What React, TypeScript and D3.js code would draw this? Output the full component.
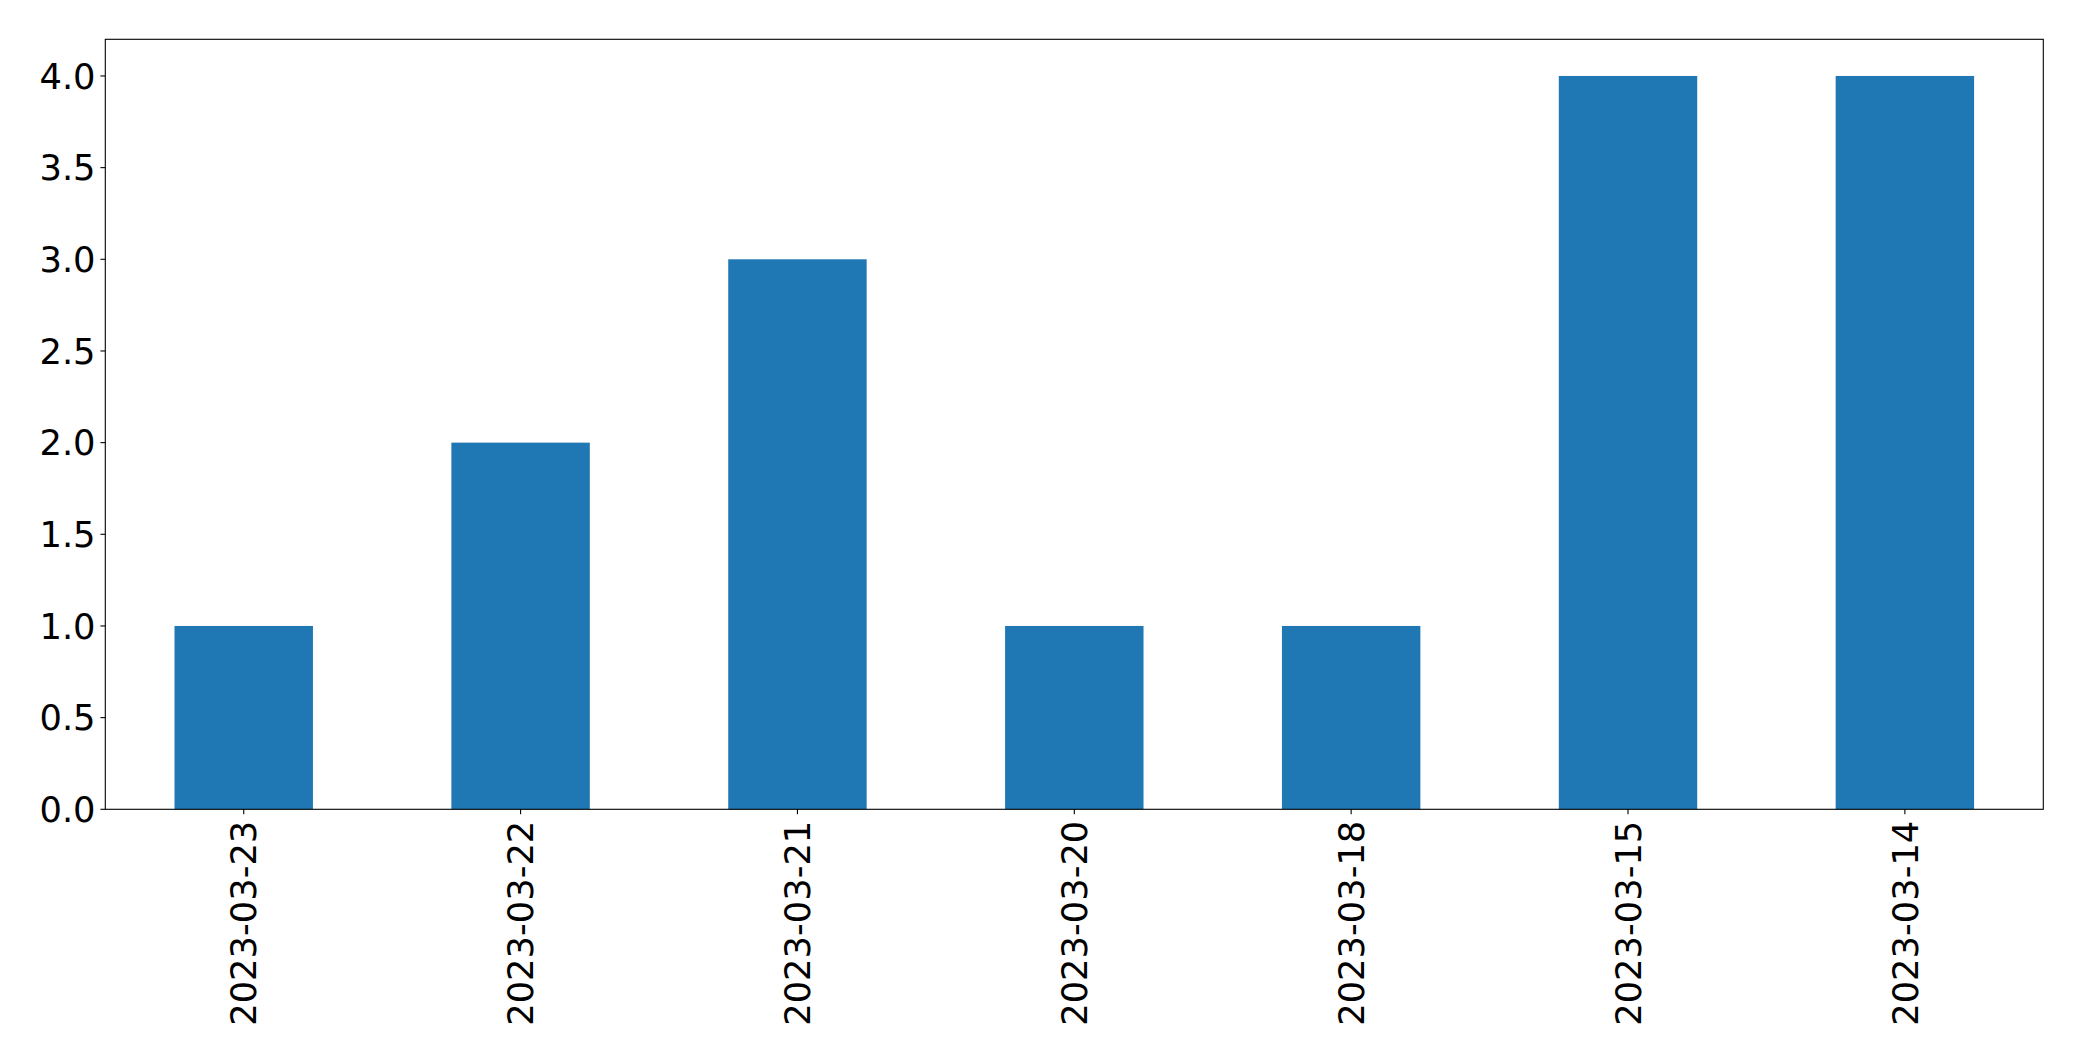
import React from "react";
import * as d3 from "d3";

const categories = ["2023-03-23", "2023-03-22", "2023-03-21", "2023-03-20", "2023-03-18", "2023-03-15", "2023-03-14"];
const counts = [1, 2, 3, 1, 1, 4, 4];
const yTicks = [0, 0.5, 1, 1.5, 2, 2.5, 3, 3.5, 4];

const W = 2082, H = 1061;
const M = { left: 105.3, right: 2043.3, top: 39.3, bottom: 809.3 };
const FS = 35.3;

export default function App() {
  const x = d3.scaleBand<string>().domain(categories).range([M.left, M.right]).paddingInner(0.5).paddingOuter(0.25);
  const y = d3.scaleLinear().domain([0, 4.2]).range([M.bottom, M.top]);
  const tickLen = 4.86;
  return (
    <svg width={W} height={H} style={{ position: "absolute", left: 0, top: 0 }} fontFamily="DejaVu Sans">
      <rect x={0} y={0} width={W} height={H} fill="white" />
      {categories.map((c, i) => (
        <rect key={c} x={x(c)} y={y(counts[i])} width={x.bandwidth()} height={y(0) - y(counts[i])} fill="#1f77b4" />
      ))}
      <rect x={M.left} y={M.top} width={M.right - M.left} height={M.bottom - M.top} fill="none" stroke="black" strokeWidth={1.1} />
      {yTicks.map((t) => (
        <g key={t}>
          <line x1={M.left - tickLen} x2={M.left} y1={y(t)} y2={y(t)} stroke="black" strokeWidth={1.1} />
          <text x={M.left - tickLen - 4.86} y={y(t)} dy="0.36em" textAnchor="end" fontSize={FS} fill="black">
            {d3.format(".1f")(t)}
          </text>
        </g>
      ))}
      {categories.map((c) => {
        const cx = x(c)! + x.bandwidth() / 2;
        const ty = M.bottom + tickLen + 6.5;
        return (
          <g key={c}>
            <line x1={cx} x2={cx} y1={M.bottom} y2={M.bottom + tickLen} stroke="black" strokeWidth={1.1} />
            <text transform={`translate(${cx},${ty}) rotate(-90)`} textAnchor="end" dy="0.36em" fontSize={FS} fill="black">
              {c}
            </text>
          </g>
        );
      })}
    </svg>
  );
}
